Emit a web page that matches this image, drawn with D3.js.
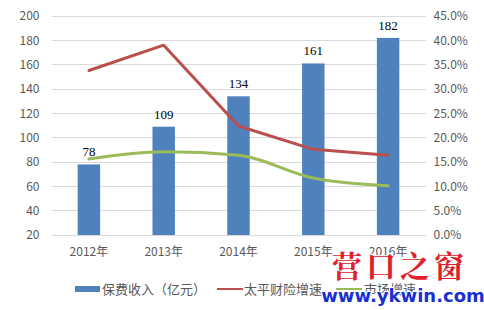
<!DOCTYPE html>
<html><head><meta charset="utf-8">
<script src="https://cdn.jsdelivr.net/npm/d3@7"></script>
<style>body{margin:0;background:#fff;} svg{display:block;}</style>
</head><body>
<svg id="c" width="484" height="310"></svg>
<script>
const categories = ["2012年","2013年","2014年","2015年","2016年"];
const premium = [78,109,134,161,182];
const taipingGrowth = [33.8,39.0,22.4,17.6,16.4];
const marketGrowth = [15.6,17.1,16.4,11.7,10.1];
const leftTicks = [20,40,60,80,100,120,140,160,180,200];
const rightTicks = [0,5,10,15,20,25,30,35,40,45];
const legendLabels = ["保费收入（亿元）","太平财险增速","市场增速"];

const svg = d3.select("#c");
const L = 51.5, R = 425.5, T = 16, B = 235;
const x = d3.scaleBand().domain(categories).range([L,R]).paddingInner(0.7).paddingOuter(0.35);
const xc = d => x(d) + x.bandwidth()/2;
const y = d3.scaleLinear().domain([20,200]).range([B,T]);
const y2 = d3.scaleLinear().domain([0,45]).range([B,T]);
const sans = "'Noto Sans CJK SC','Noto Sans',sans-serif";

// gridlines
svg.append("g").selectAll("line").data(leftTicks).join("line")
  .attr("x1",L).attr("x2",R).attr("y1",d=>y(d)).attr("y2",d=>y(d))
  .attr("stroke","#d9d9d9").attr("stroke-width",1).attr("shape-rendering","crispEdges");

// left axis
const ga = svg.append("g").attr("transform",`translate(${L-8},0)`)
  .call(d3.axisLeft(y).tickValues(leftTicks).tickSize(0).tickPadding(4));
ga.select(".domain").remove();
ga.selectAll("text").attr("fill","#595959").style("font-family",sans).style("font-size","12px");

// right axis
const gr = svg.append("g").attr("transform",`translate(${R+8},0)`)
  .call(d3.axisRight(y2).tickValues(rightTicks).tickSize(0).tickPadding(0).tickFormat(d=>d.toFixed(1)+"%"));
gr.select(".domain").remove();
gr.selectAll("text").attr("fill","#595959").style("font-family",sans).style("font-size","12px");

// x axis labels
const gx = svg.append("g").attr("transform",`translate(0,${B+4})`)
  .call(d3.axisBottom(x).tickSize(0).tickPadding(8));
gx.select(".domain").remove();
gx.selectAll("text").attr("fill","#595959").style("font-family",sans).style("font-size","12px");

// bars
svg.append("g").selectAll("rect").data(premium).join("rect")
  .attr("x",(d,i)=>x(categories[i])).attr("width",x.bandwidth())
  .attr("y",d=>y(d)).attr("height",d=>B-y(d)).attr("fill","#4f81bd");

// data labels
svg.append("g").selectAll("text").data(premium).join("text")
  .attr("x",(d,i)=>xc(categories[i])).attr("y",d=>y(d)-8)
  .attr("text-anchor","middle").attr("fill","#000")
  .style("font-family","'Liberation Serif',serif").style("font-size","13px").text(d=>d);

// lines
const line = d3.line().x((d,i)=>xc(categories[i])).y(d=>y2(d));
svg.append("path").datum(taipingGrowth).attr("d",line).attr("fill","none")
  .attr("stroke","#b9504d").attr("stroke-width",3).attr("stroke-linejoin","round").attr("stroke-linecap","round");
svg.append("path").datum(marketGrowth).attr("d",line.curve(d3.curveMonotoneX)).attr("fill","none")
  .attr("stroke","#9bbb59").attr("stroke-width",3).attr("stroke-linejoin","round").attr("stroke-linecap","round");

// legend
const lg = svg.append("g").style("font-family",sans).style("font-size","13px");
lg.append("rect").attr("x",75).attr("y",286).attr("width",25).attr("height",6).attr("fill","#4f81bd");
lg.append("text").attr("x",102).attr("y",294).attr("fill","#595959").text(legendLabels[0]);
lg.append("line").attr("x1",217).attr("x2",243).attr("y1",289).attr("y2",289).attr("stroke","#b9504d").attr("stroke-width",2);
lg.append("text").attr("x",244).attr("y",294).attr("fill","#595959").text(legendLabels[1]);
lg.append("line").attr("x1",336).attr("x2",362).attr("y1",289).attr("y2",289).attr("stroke","#9bbb59").attr("stroke-width",2);
lg.append("text").attr("x",364).attr("y",294).attr("fill","#595959").text(legendLabels[2]);

// watermark
const wm = svg.append("g");
wm.append("text").attr("x",400).attr("y",277).attr("text-anchor","middle")
  .style("font-family","'Noto Serif CJK SC','Noto Sans CJK SC',serif").style("font-size","30px").style("font-weight","bold")
  .attr("fill","#e0202a").attr("stroke","#fff").attr("stroke-width",2).attr("paint-order","stroke")
  .attr("letter-spacing","4").text("营口之窗");
wm.append("text").attr("x",403).attr("y",302).attr("text-anchor","middle")
  .style("font-family","'DejaVu Sans',sans-serif").style("font-size","18px").style("font-weight","bold")
  .attr("fill","#1a2fd0").attr("stroke","#fff").attr("stroke-width",2).attr("paint-order","stroke")
  .text("www.ykwin.com");
</script>
</body></html>
